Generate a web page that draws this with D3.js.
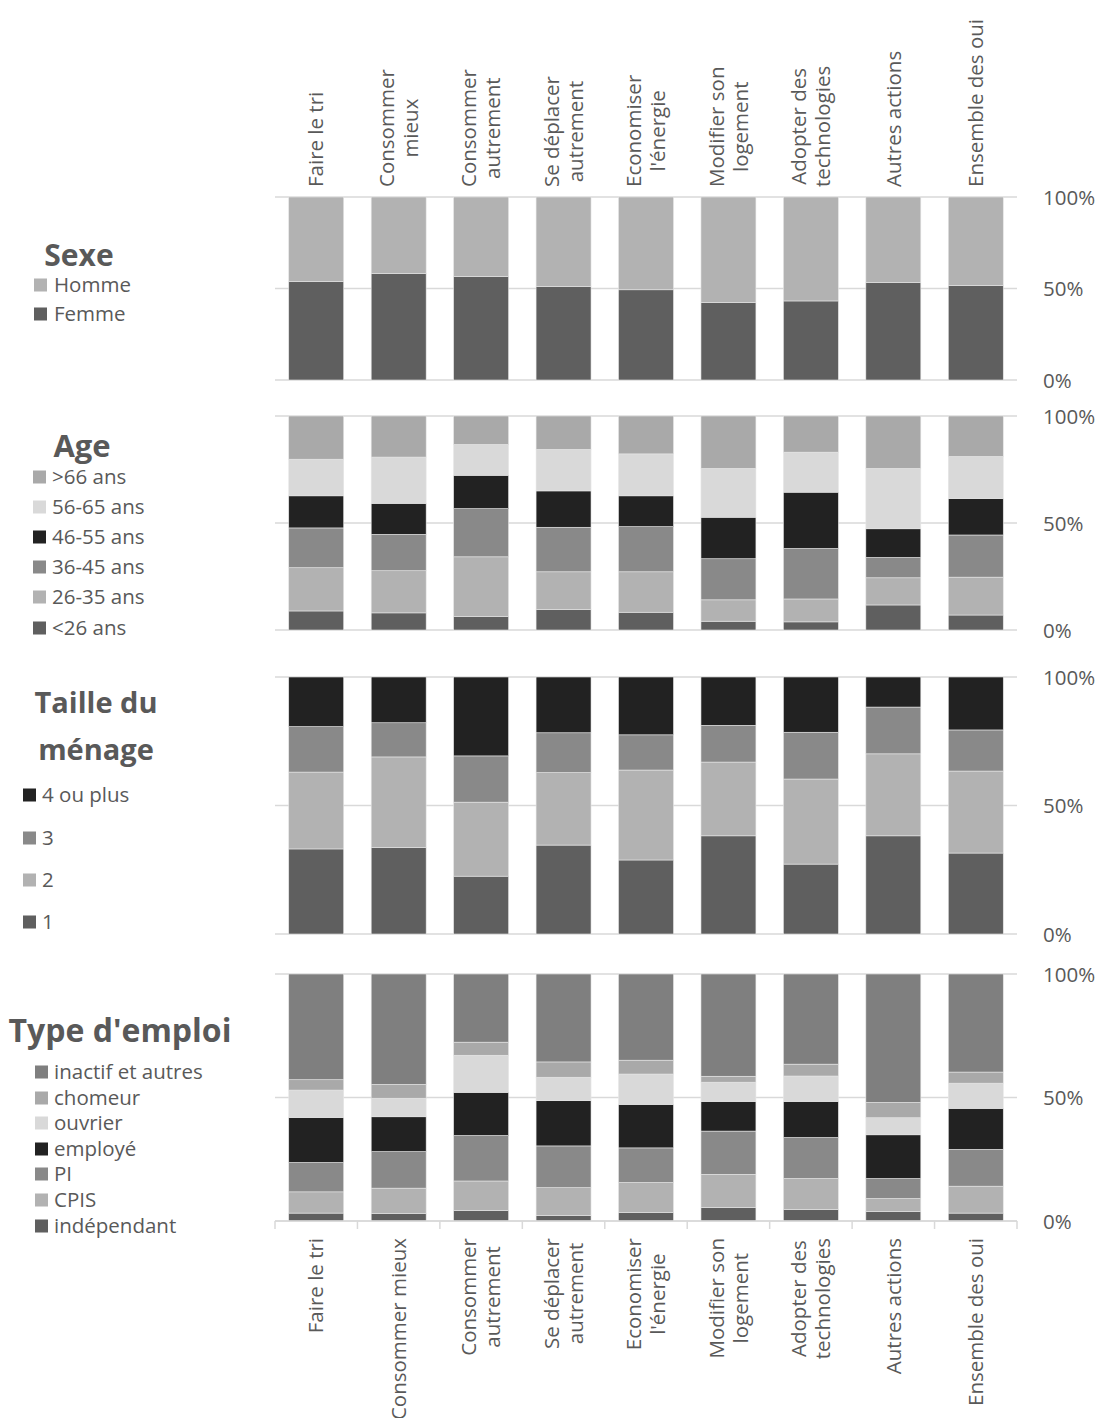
<!DOCTYPE html>
<html>
<head>
<meta charset="utf-8">
<script src="https://cdn.jsdelivr.net/npm/d3@7"></script>
<style>
  html, body { margin: 0; padding: 0; background: #fff; }
  svg { display: block; }
  text { font-family: "Open Sans", sans-serif; fill: #595959; }
</style>
</head>
<body>
<svg id="chart" width="1100" height="1418"></svg>
<script>
// ---- Data ----
const categoriesTop = ["Faire le tri", "Consommer\nmieux", "Consommer\nautrement", "Se déplacer\nautrement", "Economiser\nl'énergie", "Modifier son\nlogement", "Adopter des\ntechnologies", "Autres actions", "Ensemble des oui"];
const categoriesBottom = ["Faire le tri", "Consommer mieux", "Consommer\nautrement", "Se déplacer\nautrement", "Economiser\nl'énergie", "Modifier son\nlogement", "Adopter des\ntechnologies", "Autres actions", "Ensemble des oui"];
const tickLabels = ["0%", "50%", "100%"];
const tickValues = [0, 50, 100];

// Sexe
const femme = [53.8, 58.2, 56.6, 51.1, 49.3, 42.3, 43.2, 53.3, 51.6];
const homme = [46.2, 41.8, 43.4, 48.9, 50.7, 57.7, 56.8, 46.7, 48.4];

// Age
const ageLt26  = [8.9, 8.0, 6.4, 9.5, 8.3, 4.1, 3.8, 11.7, 7.0];
const age26_35 = [20.2, 19.7, 27.8, 17.7, 18.9, 10.0, 10.7, 12.7, 17.7];
const age36_45 = [18.6, 17.0, 22.5, 20.8, 21.1, 19.2, 23.6, 9.5, 19.7];
const age46_55 = [15.0, 14.5, 15.6, 17.0, 14.4, 19.4, 26.3, 13.4, 17.0];
const age56_65 = [17.1, 21.6, 14.4, 19.4, 19.6, 22.8, 18.7, 28.2, 19.7];
const ageGt66  = [20.2, 19.2, 13.3, 15.6, 17.7, 24.5, 16.9, 24.5, 18.9];

// Taille du ménage
const taille1 = [33.1, 33.6, 22.5, 34.6, 28.8, 38.2, 27.2, 38.2, 31.5];
const taille2 = [29.9, 35.3, 28.8, 28.2, 35.0, 28.7, 33.1, 31.9, 31.9];
const taille3 = [17.7, 13.3, 18.0, 15.5, 13.7, 14.3, 18.2, 18.2, 16.0];
const taille4 = [19.3, 17.8, 30.7, 21.7, 22.5, 18.8, 21.5, 11.7, 20.6];

// Type d'emploi
const independant = [3.2, 3.1, 4.3, 2.3, 3.5, 5.4, 4.6, 3.8, 3.2];
const cpis        = [8.6, 10.2, 11.9, 11.2, 12.1, 13.5, 12.6, 5.3, 10.9];
const pi          = [11.9, 14.8, 18.4, 16.9, 14.0, 17.5, 16.6, 8.1, 14.9];
const employe     = [18.2, 14.1, 17.5, 18.3, 17.6, 12.0, 14.6, 17.7, 16.6];
const ouvrier     = [11.1, 7.5, 15.0, 9.5, 12.3, 7.8, 10.3, 6.9, 10.2];
const chomeur     = [4.2, 5.6, 5.3, 6.2, 5.6, 2.4, 4.8, 6.2, 4.5];
const inactif     = [42.8, 44.7, 27.6, 35.6, 34.9, 41.4, 36.5, 52.0, 39.7];

// ---- Panels (series listed bottom -> top) ----
const panels = [
  { title: ["Sexe"], top: 197, bottom: 380,
    series: [
      { name: "Femme", values: femme, color: "#5f5f5f" },
      { name: "Homme", values: homme, color: "#b2b2b2" }
    ],
    legend: { titleX: 79, titleY: [255], items: [285, 314], swatchX: 34, textX: 54, titleSize: 30 } },
  { title: ["Age"], top: 416, bottom: 630,
    series: [
      { name: "<26 ans", values: ageLt26, color: "#5f5f5f" },
      { name: "26-35 ans", values: age26_35, color: "#b2b2b2" },
      { name: "36-45 ans", values: age36_45, color: "#898989" },
      { name: "46-55 ans", values: age46_55, color: "#222222" },
      { name: "56-65 ans", values: age56_65, color: "#d9d9d9" },
      { name: ">66 ans", values: ageGt66, color: "#a9a9a9" }
    ],
    legend: { titleX: 82, titleY: [446], items: [477, 507, 537, 567, 597, 628], swatchX: 33, textX: 52, titleSize: 31 } },
  { title: ["Taille du", "ménage"], top: 677, bottom: 934,
    series: [
      { name: "1", values: taille1, color: "#5f5f5f" },
      { name: "2", values: taille2, color: "#b2b2b2" },
      { name: "3", values: taille3, color: "#898989" },
      { name: "4 ou plus", values: taille4, color: "#222222" }
    ],
    legend: { titleX: 96, titleY: [703, 750], items: [795, 838, 880, 922], swatchX: 23, textX: 42, titleSize: 29 } },
  { title: ["Type d'emploi"], top: 974, bottom: 1221,
    series: [
      { name: "indépendant", values: independant, color: "#5f5f5f" },
      { name: "CPIS", values: cpis, color: "#b2b2b2" },
      { name: "PI", values: pi, color: "#898989" },
      { name: "employé", values: employe, color: "#222222" },
      { name: "ouvrier", values: ouvrier, color: "#d9d9d9" },
      { name: "chomeur", values: chomeur, color: "#a9a9a9" },
      { name: "inactif et autres", values: inactif, color: "#7f7f7f" }
    ],
    legend: { titleX: 120, titleY: [1031], items: [1072, 1098, 1123, 1149, 1174, 1200, 1226], swatchX: 35, textX: 54, titleSize: 32 } }
];

// ---- Layout ----
const svg = d3.select("#chart");
const plotLeft = 275, plotRight = 1017;
const idx = d3.range(categoriesTop.length);
const x = d3.scaleBand().domain(idx).range([plotLeft, plotRight]).paddingInner(1/3).paddingOuter(1/6);
const band = (plotRight - plotLeft) / idx.length;
const gridColor = "#d9d9d9";
const fontSize = 20.5;

panels.forEach((p, pi) => {
  const y = d3.scaleLinear().domain([0, 100]).range([p.bottom, p.top]);
  const g = svg.append("g");

  // gridlines
  g.selectAll("line.grid").data(tickValues).join("line")
    .attr("x1", plotLeft).attr("x2", plotRight)
    .attr("y1", d => y(d)).attr("y2", d => y(d))
    .attr("stroke", gridColor).attr("stroke-width", 1.5);

  // right axis labels
  const axis = d3.axisRight(y).tickValues(tickValues).tickSize(0).tickPadding(0)
    .tickFormat(d => tickLabels[tickValues.indexOf(d)]);
  const ag = g.append("g").attr("transform", `translate(1043,0)`).call(axis);
  ag.select(".domain").remove();
  ag.selectAll("text").attr("font-size", fontSize).attr("font-family", "Open Sans").attr("fill", "#595959").attr("dy", "0.35em").attr("x", 0);

  // stacked bars
  const table = idx.map(i => {
    const row = { i };
    p.series.forEach(s => row[s.name] = s.values[i]);
    return row;
  });
  const stack = d3.stack().keys(p.series.map(s => s.name))(table);
  stack.forEach((layer, li) => {
    g.append("g").selectAll("rect").data(layer).join("rect")
      .attr("x", d => x(d.data.i))
      .attr("width", x.bandwidth())
      .attr("y", d => y(d[1]))
      .attr("height", d => y(d[0]) - y(d[1]))
      .attr("fill", p.series[li].color)
      .attr("stroke", "#e6e6e6").attr("stroke-width", 0.6);
  });

  // legend
  const L = p.legend;
  const lg = svg.append("g");
  p.title.forEach((t, k) => {
    lg.append("text").attr("x", L.titleX).attr("y", L.titleY[k]).attr("dy", "0.35em")
      .attr("text-anchor", "middle").attr("font-weight", "bold").attr("font-size", L.titleSize).text(t);
  });
  const items = p.series.slice().reverse();
  items.forEach((s, k) => {
    const cy = L.items[k];
    lg.append("rect").attr("x", L.swatchX).attr("y", cy - 6.5).attr("width", 13).attr("height", 13).attr("fill", s.color);
    lg.append("text").attr("x", L.textX).attr("y", cy).attr("dy", "0.35em").attr("font-size", fontSize).text(s.name);
  });

  // bottom axis on last panel
  if (pi === panels.length - 1) {
    g.append("line").attr("x1", plotLeft).attr("x2", plotRight).attr("y1", p.bottom).attr("y2", p.bottom)
      .attr("stroke", gridColor).attr("stroke-width", 1.5);
    g.selectAll("line.tick").data(d3.range(idx.length + 1)).join("line")
      .attr("x1", d => plotLeft + d * band).attr("x2", d => plotLeft + d * band)
      .attr("y1", p.bottom).attr("y2", p.bottom + 8)
      .attr("stroke", gridColor).attr("stroke-width", 1.5);
  }
});

// ---- Category labels (rotated) ----
const lineGap = 24;
function drawLabels(labels, anchorY, dir) {
  labels.forEach((lab, i) => {
    const cx = x(i) + x.bandwidth() / 2;
    const lines = lab.split("\n");
    const grp = svg.append("g").attr("transform", `translate(${cx},${anchorY}) rotate(-90)`);
    const texts = lines.map((ln, k) => grp.append("text")
      .attr("font-size", fontSize)
      .attr("text-anchor", "middle")
      .attr("y", (k - (lines.length - 1) / 2) * lineGap)
      .attr("dy", "0.35em")
      .text(ln));
    const maxLen = d3.max(texts, t => t.node().getComputedTextLength());
    texts.forEach(t => t.attr("x", dir * maxLen / 2));
  });
}
drawLabels(categoriesTop, 187, 1);
drawLabels(categoriesBottom, 1238, -1);
</script>
</body>
</html>
